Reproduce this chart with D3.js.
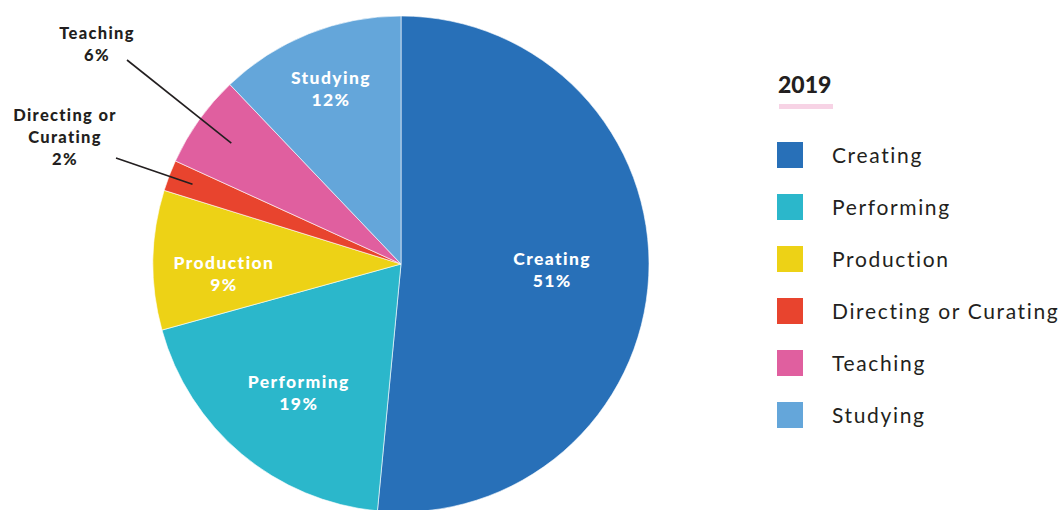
<!DOCTYPE html>
<html>
<head>
<meta charset="utf-8">
<script src="https://cdn.jsdelivr.net/npm/d3@7"></script>
<style>
  html, body { margin: 0; padding: 0; background: #fff; }
  svg { display: block; }
  text { font-family: Lato, "Open Sans", sans-serif; fill: #231f20; }
</style>
</head>
<body>
<svg id="chart" width="1059" height="510"></svg>
<script>
// Share of respondents by main activity, 2019
const categories = ["Creating", "Performing", "Production", "Directing or Curating", "Teaching", "Studying"];
const values = [51, 19, 9, 2, 6, 12];
const colors = ["#2870b8", "#2bb7cb", "#edd216", "#e8442e", "#e05f9f", "#64a6da"];
const title = "2019";

const svg = d3.select("#chart");
const cx = 401, cy = 264, R = 248;

const pie = d3.pie().sort(null).value(d => d.value);
const arcs = pie(categories.map((c, i) => ({ name: c, value: values[i], color: colors[i] })));
const arc = d3.arc().innerRadius(0).outerRadius(R);

const g = svg.append("g").attr("transform", `translate(${cx},${cy})`);

g.selectAll("path.slice")
  .data(arcs)
  .join("path")
  .attr("class", "slice")
  .attr("d", arc)
  .attr("fill", d => d.data.color)
  .attr("stroke", "#ffffff")
  .attr("stroke-width", 0.6);

// Labels inside the larger slices: radius as fraction of R, angular nudge in degrees
const insideLabels = {
  "Creating": { r: 0.61, shift: -0.5 },
  "Performing": { r: 0.665, shift: -1.7 },
  "Production": { r: 0.715, shift: -4 },
  "Studying": { r: 0.76, shift: 0 }
};
// Callouts outside the narrow slices: text anchor, line start, line end radius
const outsideLabels = {
  "Teaching": { tx: 97, ty: 33, lines: ["Teaching"], lx: 127, ly: 60, r: 0.84 },
  "Directing or Curating": { tx: 65, ty: 115, lines: ["Directing or", "Curating"], lx: 116, ly: 158, r: 0.9 }
};

const lineH = 22;
arcs.forEach(d => {
  const mid = (d.startAngle + d.endAngle) / 2;
  const pct = d.data.value + "%";
  const inside = insideLabels[d.data.name];
  if (inside) {
    const a = mid + inside.shift * Math.PI / 180;
    const r = inside.r * R;
    const x = Math.sin(a) * r, y = -Math.cos(a) * r;
    const t = g.append("text")
      .attr("text-anchor", "middle")
      .attr("font-weight", 900)
      .attr("font-size", 17.5)
      .attr("letter-spacing", 1.4)
      .style("fill", "#ffffff");
    t.append("tspan").attr("x", x).attr("y", y - 11 + 6).text(d.data.name);
    t.append("tspan").attr("x", x).attr("y", y + 11 + 6).text(pct);
  } else if (outsideLabels[d.data.name]) {
    const o = outsideLabels[d.data.name];
    const r = o.r * R;
    const ex = cx + Math.sin(mid) * r, ey = cy - Math.cos(mid) * r;
    svg.append("line")
      .attr("x1", o.lx).attr("y1", o.ly)
      .attr("x2", ex).attr("y2", ey)
      .attr("stroke", "#231f20").attr("stroke-width", 1.6);
    const t = svg.append("text")
      .attr("text-anchor", "middle")
      .attr("font-weight", 900)
      .attr("font-size", 16.5)
      .attr("letter-spacing", 1.3);
    o.lines.concat([pct]).forEach((s, i) => {
      t.append("tspan").attr("x", o.tx).attr("y", o.ty + 6 + i * lineH).text(s);
    });
  }
});

// Legend
const legend = svg.append("g").attr("transform", "translate(777,0)");
legend.append("text")
  .attr("x", 1).attr("y", 93)
  .attr("font-weight", 900)
  .attr("font-size", 23)
  .text(title);
legend.append("rect")
  .attr("x", 2).attr("y", 104).attr("width", 54).attr("height", 5)
  .attr("fill", "#f7d3e5");

const ly = d3.scaleBand().domain(categories).range([142, 142 + 52 * categories.length]);
const items = legend.selectAll("g.item")
  .data(categories)
  .join("g")
  .attr("class", "item")
  .attr("transform", c => `translate(0,${ly(c)})`);
items.append("rect")
  .attr("width", 26).attr("height", 26)
  .attr("fill", (c, i) => colors[i]);
items.append("text")
  .attr("x", 55).attr("y", 21)
  .attr("font-size", 21)
  .attr("letter-spacing", 1.65)
  .text(c => c);
</script>
</body>
</html>
